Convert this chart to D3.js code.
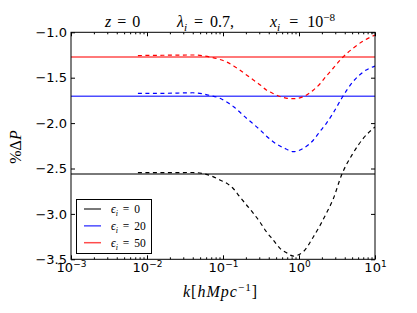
<!DOCTYPE html>
<html>
<head>
<meta charset="utf-8">
<script src="https://cdn.jsdelivr.net/npm/d3@7"></script>
<style>
    body { margin: 0; background: #fff; }
    svg { display: block; }
</style>
</head>
<body>
<div id="canvas"></div>
<script>
"use strict"

// values
let kDashed = [0.00759, 0.0158, 0.0398, 0.0676, 0.0912, 0.112, 0.138, 0.166, 0.204, 0.251,
    0.309, 0.372, 0.457, 0.562, 0.676, 0.841, 1.138, 1.549, 1.905, 2.291, 2.818, 3.631, 5.129, 7.079, 10]

let dashedEps0 = [-2.546, -2.546, -2.544, -2.577, -2.627, -2.663, -2.726, -2.811, -2.902, -2.993,
    -3.095, -3.196, -3.287, -3.379, -3.425, -3.464, -3.416, -3.251, -3.122, -2.993, -2.836, -2.572, -2.333, -2.164, -2.043]
let dashedEps20 = [-1.672, -1.672, -1.666, -1.696, -1.727, -1.768, -1.819, -1.878, -1.947, -2.010,
    -2.076, -2.142, -2.205, -2.252, -2.285, -2.315, -2.278, -2.186, -2.087, -2.002, -1.889, -1.729, -1.544, -1.434, -1.371]
let dashedEps50 = [-1.256, -1.253, -1.250, -1.272, -1.300, -1.327, -1.371, -1.415, -1.470, -1.525,
    -1.580, -1.635, -1.674, -1.707, -1.724, -1.731, -1.709, -1.635, -1.564, -1.481, -1.396, -1.289, -1.176, -1.093, -1.030]

let solidLevels = [-2.56, -1.705, -1.272]
let epsValues = ["0", "20", "50"]
let seriesColors = ["black", "blue", "red"]

let xMajorTicks = [1e-3, 1e-2, 1e-1, 1e0, 1e1]
let xTickExponents = ["−3", "−2", "−1", "0", "1"]
let yTicks = [-1.0, -1.5, -2.0, -2.5, -3.0, -3.5]

let svgWidth = 417
let svgHeight = 313

let margin = {
    top: 32.3,
    right: 42,
    bottom: 53.7,
    left: 71
}

let vizWidth = svgWidth - (margin.left + margin.right)
let vizHeight = svgHeight - (margin.top + margin.bottom)

let svg = d3.select("#canvas")
    .append("svg")
    .attr("width", svgWidth)
    .attr("height", svgHeight)

let viz = svg.append("g")
    .attr("transform", `translate(${margin.left},${margin.top})`)

let xScale = d3.scaleLog()
    .domain([1e-3, 1e1])
    .range([0, vizWidth])

let yScale = d3.scaleLinear()
    .domain([-3.5, -1.0])
    .range([vizHeight, 0])

let xMinorTicks = xScale.ticks().filter(function (t) {
    return xMajorTicks.indexOf(t) < 0
})

let mathFont = "Liberation Serif"
let tickFont = "DejaVu Sans"

// clip for the curves
svg.append("clipPath")
    .attr("id", "plotclip")
    .append("rect")
    .attr("width", vizWidth)
    .attr("height", vizHeight)

let plot = viz.append("g").attr("clip-path", "url(#plotclip)")

// horizontal solid lines
plot.selectAll("line.solid")
    .data(solidLevels)
    .join("line")
    .classed("solid", true)
    .attr("x1", xScale(1e-3))
    .attr("x2", xScale(1e1))
    .attr("y1", function (v) { return yScale(v) })
    .attr("y2", function (v) { return yScale(v) })
    .attr("stroke", function (v, i) { return seriesColors[i] })
    .attr("stroke-opacity", 0.7)
    .attr("stroke-width", 1.5)

let dashedSeries = [dashedEps0, dashedEps20, dashedEps50]

let line = d3.line()
    .x(function (d) { return xScale(d[0]) })
    .y(function (d) { return yScale(d[1]) })
    .curve(d3.curveMonotoneX)

plot.selectAll("path.dashed")
    .data(dashedSeries)
    .join("path")
    .classed("dashed", true)
    .attr("d", function (vals) {
        return line(vals.map(function (v, i) { return [kDashed[i], v] }))
    })
    .attr("fill", "none")
    .attr("stroke", function (v, i) { return seriesColors[i] })
    .attr("stroke-width", 1.2)
    .attr("stroke-dasharray", "4,3.5")

// axes: bottom with labels, top/right mirrored ticks
let xAxis = viz.append("g")
    .attr("transform", `translate(0, ${vizHeight})`)
    .call(d3.axisBottom(xScale)
        .tickValues(xMajorTicks)
        .tickSizeInner(-4)
        .tickSizeOuter(0)
        .tickFormat(""))

xAxis.selectAll(".tick text").each(function (d, i) {
    let t = d3.select(this)
    t.attr("font-family", tickFont)
        .attr("font-size", 13)
        .attr("fill", "black")
        .attr("y", 13)
        .attr("dy", "0")
        .attr("text-anchor", "middle")
    t.append("tspan").text("10")
    t.append("tspan")
        .attr("font-size", 9)
        .attr("dy", -5)
        .text(xTickExponents[i])
})

viz.append("g")
    .attr("transform", `translate(0, ${vizHeight})`)
    .call(d3.axisBottom(xScale)
        .tickValues(xMinorTicks)
        .tickSizeInner(-2)
        .tickSizeOuter(0)
        .tickFormat(""))

viz.append("g")
    .call(d3.axisTop(xScale)
        .tickValues(xMajorTicks)
        .tickSizeInner(-4)
        .tickSizeOuter(0)
        .tickFormat(""))

viz.append("g")
    .call(d3.axisTop(xScale)
        .tickValues(xMinorTicks)
        .tickSizeInner(-2)
        .tickSizeOuter(0)
        .tickFormat(""))

viz.append("g")
    .call(d3.axisLeft(yScale)
        .tickValues(yTicks)
        .tickSizeInner(-4)
        .tickSizeOuter(0)
        .tickPadding(4)
        .tickFormat(function (d) { return d3.format(".1f")(d).replace("-", "−") }))
    .selectAll("text")
    .attr("font-family", tickFont)
    .attr("font-size", 13)
    .attr("fill", "black")

viz.append("g")
    .attr("transform", `translate(${vizWidth}, 0)`)
    .call(d3.axisRight(yScale)
        .tickValues(yTicks)
        .tickSizeInner(-4)
        .tickSizeOuter(0)
        .tickFormat(""))

viz.selectAll(".domain").remove()

viz.append("rect")
    .attr("width", vizWidth)
    .attr("height", vizHeight)
    .attr("fill", "none")
    .attr("stroke", "black")
    .attr("stroke-width", 1)

// mathtext helper: parts of [text, style]
function mathText(parent, x, y, size, parts, spacing) {
    let t = parent.append("text")
        .attr("x", x)
        .attr("y", y)
        .attr("font-family", mathFont)
        .attr("font-size", size)
        .attr("word-spacing", spacing || 0)
        .attr("fill", "black")
    parts.forEach(function (p) {
        let s = t.append("tspan").text(p[0])
        if (p[1] == "i") s.attr("font-style", "italic")
        if (p[1] == "sub") s.attr("font-style", "italic").attr("font-size", size * 0.7).attr("dy", size * 0.25)
        if (p[1] == "up") s.attr("font-size", size * 0.7).attr("dy", -size * 0.4)
        if (p[1] == "rest") s.attr("dy", -size * 0.25)
        if (p[1] == "base") s.attr("dy", size * 0.4)
    })
    return t
}

// title
mathText(svg, 105, 27, 16, [["z", "i"], [" = 0", ""]], 2)
mathText(svg, 177, 27, 16, [["λ", "i"], ["i", "sub"], [" = 0.7,", "rest"]], 3)
mathText(svg, 270, 27, 16, [["x", "i"], ["i", "sub"], [" = 10", "rest"], ["−8", "up"]], 5)

// x label
mathText(svg, 183, 297, 16, [["k", "i"], ["[", ""], ["hMpc", "i"], ["−1", "up"], ["]", "base"]])
    .attr("letter-spacing", 1)

// y label
svg.append("g")
    .attr("transform", "translate(21, 147) rotate(-90)")
    .call(function (g) {
        let t = g.append("text")
            .attr("text-anchor", "middle")
            .attr("font-family", mathFont)
            .attr("font-size", 16)
            .attr("fill", "black")
        t.append("tspan").text("%Δ")
        t.append("tspan").attr("font-style", "italic").text("P")
    })

// legend
let legend = svg.append("g")

legend.append("rect")
    .attr("x", 76.5)
    .attr("y", 199.5)
    .attr("width", 75)
    .attr("height", 54)
    .attr("fill", "white")
    .attr("stroke", "black")
    .attr("stroke-width", 1)

let legendY = d3.scalePoint()
    .domain(epsValues)
    .range([209, 242.7])

epsValues.forEach(function (eps, i) {
    legend.append("line")
        .attr("x1", 84)
        .attr("x2", 101)
        .attr("y1", legendY(eps))
        .attr("y2", legendY(eps))
        .attr("stroke", seriesColors[i])
        .attr("stroke-opacity", 0.7)
        .attr("stroke-width", 1.5)
    mathText(legend, 111, legendY(eps) + 4, 11.5, [["ϵ", "i"], ["i", "sub"], [" = " + eps, "rest"]], 2)
})
</script>
</body>
</html>
